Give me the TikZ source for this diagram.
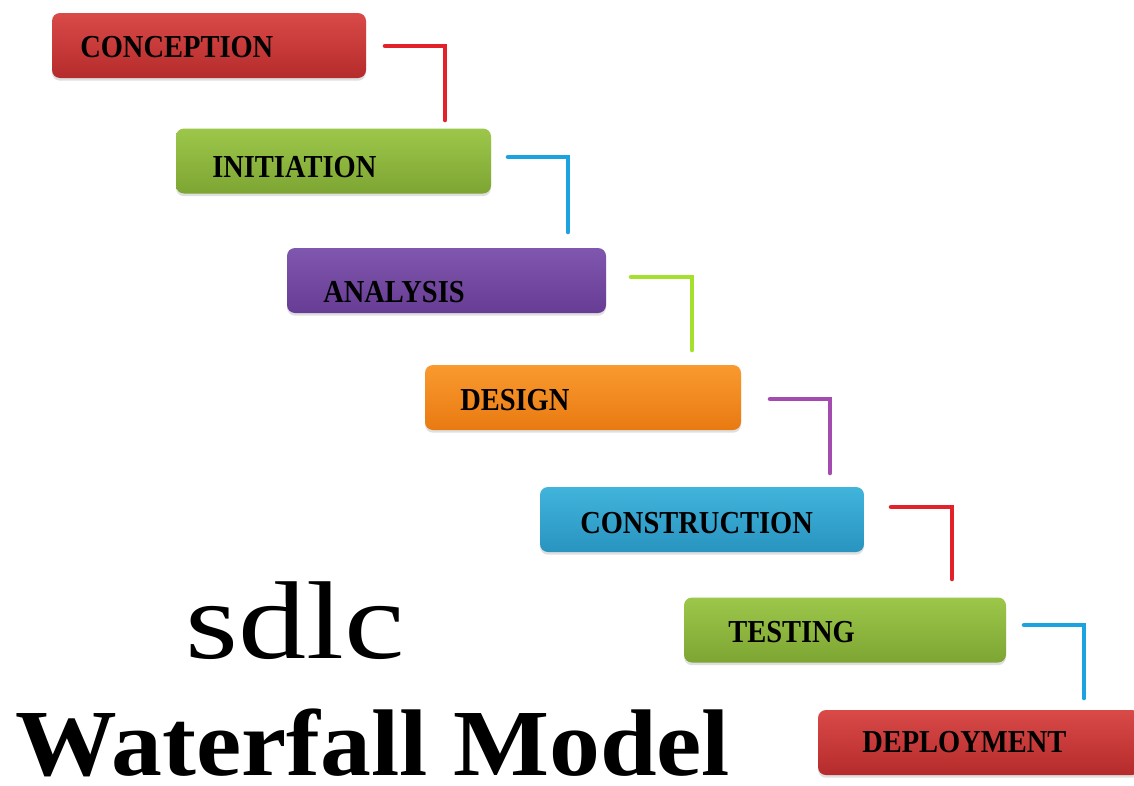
\documentclass[tikz,border=0pt]{standalone}
\usepackage{fontspec}
\setmainfont{Liberation Serif}
\usetikzlibrary{shadows}
\definecolor{rTop}{HTML}{D94A48}\definecolor{rBot}{HTML}{B52B2B}
\definecolor{gTop}{HTML}{9DC74A}\definecolor{gBot}{HTML}{7DA533}
\definecolor{pTop}{HTML}{8057AE}\definecolor{pBot}{HTML}{673C94}
\definecolor{oTop}{HTML}{F99A2E}\definecolor{oBot}{HTML}{E97A12}
\definecolor{cTop}{HTML}{41B4DC}\definecolor{cBot}{HTML}{2894BF}
\definecolor{lnRed}{HTML}{E3212B}\definecolor{lnBlue}{HTML}{1AA3E0}
\definecolor{lnLime}{HTML}{A4E02C}\definecolor{lnPurple}{HTML}{A34BAF}
\tikzset{
  stepbox/.style 2 args={rounded corners=6pt, minimum height=48.75pt, inner sep=0pt,
    top color=#1, bottom color=#2, draw=none,
    drop shadow={shadow xshift=0pt, shadow yshift=-2pt, opacity=0.25}},
  lbl/.style={anchor=base west, inner sep=0pt, font=\fontsize{24}{28}\selectfont\bfseries},
  conn/.style={line width=3.4pt, line cap=round, line join=miter}
}
\newcommand{\lab}[1]{\scalebox{0.89}[1]{#1}}
\begin{document}
\begin{tikzpicture}[x=0.75pt, y=-0.75pt]
\useasboundingbox (0,0) rectangle (1134,785);
\fill[white] (0,0) rectangle (1134,785);
% boxes
\node[stepbox={rTop}{rBot}, minimum width=235.5pt]  (b1) at (209,45.5) {};
\node[stepbox={gTop}{gBot}, minimum width=236.25pt] (b2) at (333.5,161) {};
\node[stepbox={pTop}{pBot}, minimum width=239.25pt] (b3) at (446.5,280.5) {};
\node[stepbox={oTop}{oBot}, minimum width=237pt]    (b4) at (583,397.5) {};
\node[stepbox={cTop}{cBot}, minimum width=243pt]    (b5) at (702,519.5) {};
\node[stepbox={gTop}{gBot}, minimum width=241.5pt]  (b6) at (845,630) {};
\node[stepbox={rTop}{rBot}, minimum width=241.5pt]  (b7) at (979,742.5) {};
% labels
\node[lbl] (t1) at (80,57)   {\lab{CONCEPTION}};
\node[lbl] (t2) at (212,177) {\lab{INITIATION}};
\node[lbl] (t3) at (323,302) {\lab{ANALYSIS}};
\node[lbl] (t4) at (460,410) {\lab{DESIGN}};
\node[lbl] (t5) at (580,533) {\lab{CONSTRUCTION}};
\node[lbl] (t6) at (728,642) {\lab{TESTING}};
\node[lbl] (t7) at (862,752) {\lab{DEPLOYMENT}};
% connector ends
\coordinate (c1s) at (385,46);  \coordinate (c1e) at (445,120);
\coordinate (c2s) at (508,157); \coordinate (c2e) at (568,232);
\coordinate (c3s) at (631,277); \coordinate (c3e) at (692,350);
\coordinate (c4s) at (770,399); \coordinate (c4e) at (830,473);
\coordinate (c5s) at (891,507); \coordinate (c5e) at (952,579);
\coordinate (c6s) at (1024,625);\coordinate (c6e) at (1084,698);
\draw[conn, lnRed]    (c1s) -| (c1e);
\draw[conn, lnBlue]   (c2s) -| (c2e);
\draw[conn, lnLime]   (c3s) -| (c3e);
\draw[conn, lnPurple] (c4s) -| (c4e);
\draw[conn, lnRed]    (c5s) -| (c5e);
\draw[conn, lnBlue]   (c6s) -| (c6e);
% titles
\node[anchor=base west, inner sep=0pt, font=\fontsize{83}{90}\selectfont] (sdlc) at (185,658) {\scalebox{1.23}[1]{sdlc}};
\node[anchor=base west, inner sep=0pt, font=\fontsize{71}{80}\selectfont\bfseries] (wm) at (15,775) {\scalebox{1.075}[1]{Waterfall Model}};
\end{tikzpicture}
\end{document}
